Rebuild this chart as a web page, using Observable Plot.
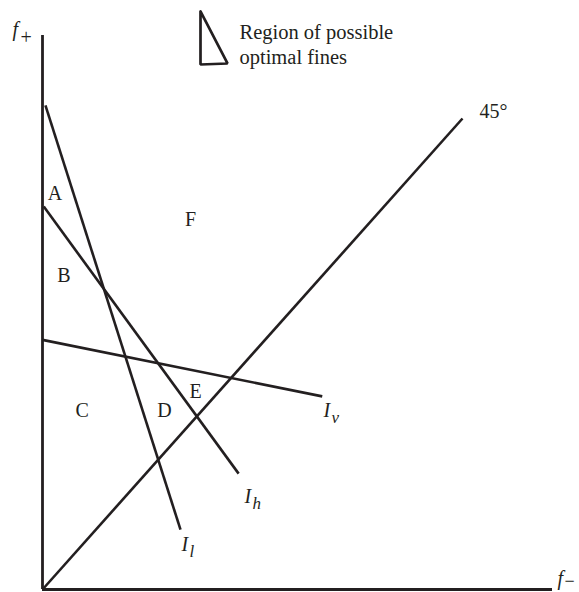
<!DOCTYPE html>
<html>
<head>
<meta charset="utf-8">
<script src="https://cdn.jsdelivr.net/npm/d3@7"></script>
<script src="https://cdn.jsdelivr.net/npm/@observablehq/plot@0.6"></script>
<style>
  html, body { margin: 0; padding: 0; background: #fff; }
  svg { display: block; }
</style>
</head>
<body>
<div id="chart"></div>
<script>
// Axis extents (data units; the 45° line is y = x)
const xAxisEnd = 12.143;
const yAxisEnd = 11.762;

// Straight lines of the diagram
const lineIds = ["Il", "Ih", "Iv", "deg45"];
const lineX1 = [0.07, 0.03, 0.0, 0.0];
const lineY1 = [10.28, 8.13, 5.30, 0.0];
const lineX2 = [3.286, 4.67, 6.66, 10.0];
const lineY2 = [1.27, 2.46, 4.10, 10.0];

// Region labels
const regionLabels = ["A", "B", "C", "D", "E", "F"];
const regionX = [0.298, 0.512, 0.945, 2.905, 3.643, 3.524];
const regionY = [8.259, 6.524, 3.652, 3.652, 4.076, 7.707];

// Curve labels (I with subscript)
const curveBase = ["I", "I", "I"];
const curveSub = ["l", "h", "v"];
const curveX = [3.31, 4.81, 6.69];
const curveY = [0.828, 1.826, 3.652];

// Axis labels (f with subscript): vertical axis, horizontal axis
const axisBase = ["f", "f"];
const axisSub = ["+", "\u2212"];
const axisLabelX = [-0.714, 12.26];
const axisLabelY = [11.741, 0.085];

// 45° label
const degLabel = ["45°"];
const degX = [10.405];
const degY = [10.021];

// Legend: triangle icon and text
const legendTriX = [3.762, 3.762, 4.405, 3.762];
const legendTriY = [12.272, 11.146, 11.168, 12.272];
const legendText = ["Region of possible", "optimal fines"];
const legendTextX = [4.69, 4.69];
const legendTextY = [11.698, 11.161];

const ink = "#231f20";
const serif = '"Liberation Serif", "Times New Roman", serif';

const lines = lineIds.map((id, i) => ({id, x1: lineX1[i], y1: lineY1[i], x2: lineX2[i], y2: lineY2[i]}));
const regions = regionLabels.map((t, i) => ({t, x: regionX[i], y: regionY[i]}));
const curves = curveBase.map((t, i) => ({t, s: curveSub[i], x: curveX[i], y: curveY[i]}));
const axisLabels = axisBase.map((t, i) => ({t, s: axisSub[i], x: axisLabelX[i], y: axisLabelY[i]}));
const degs = degLabel.map((t, i) => ({t, x: degX[i], y: degY[i]}));
const tri = legendTriX.map((x, i) => ({x, y: legendTriY[i]}));
const legend = legendText.map((t, i) => ({t, x: legendTextX[i], y: legendTextY[i]}));

const plot = Plot.plot({
  width: 579,
  height: 592,
  marginLeft: 42,
  marginRight: 27,
  marginTop: 35,
  marginBottom: 3,
  x: {domain: [0, xAxisEnd], axis: null},
  y: {domain: [0, yAxisEnd], axis: null},
  style: {background: "#fff", fontFamily: serif, color: ink, overflow: "visible"},
  marks: [
    Plot.ruleX([0], {y1: 0, y2: yAxisEnd, stroke: ink, strokeWidth: 2.8}),
    Plot.ruleY([0], {x1: 0, x2: xAxisEnd, stroke: ink, strokeWidth: 2.8}),
    Plot.link(lines, {x1: "x1", y1: "y1", x2: "x2", y2: "y2", stroke: ink, strokeWidth: 2.6}),
    Plot.text(regions, {x: "x", y: "y", text: "t", fontSize: 20, fill: ink, textAnchor: "middle", lineAnchor: "bottom"}),
    Plot.text(curves, {x: "x", y: "y", text: "t", fontSize: 20, fontStyle: "italic", fill: ink, textAnchor: "start", lineAnchor: "bottom"}),
    Plot.text(curves, {x: "x", y: "y", text: "s", fontSize: 17, fontStyle: "italic", fill: ink, textAnchor: "start", lineAnchor: "bottom", dx: 8, dy: 6}),
    Plot.text(axisLabels, {x: "x", y: "y", text: "t", fontSize: 20, fontStyle: "italic", fill: ink, textAnchor: "start", lineAnchor: "bottom"}),
    Plot.text(axisLabels.slice(0, 1), {x: "x", y: "y", text: "s", fontSize: 20, fill: ink, textAnchor: "start", lineAnchor: "bottom", dx: 8, dy: 8}),
    Plot.text(axisLabels.slice(1), {x: "x", y: "y", text: "s", fontSize: 18, fill: ink, textAnchor: "start", lineAnchor: "bottom", dx: 7, dy: 2}),
    Plot.text(degs, {x: "x", y: "y", text: "t", fontSize: 20, fill: ink, textAnchor: "start", lineAnchor: "bottom"}),
    Plot.line(tri, {x: "x", y: "y", stroke: ink, strokeWidth: 2.7, strokeLinejoin: "miter"}),
    Plot.text(legend, {x: "x", y: "y", text: "t", fontSize: 20.5, fill: ink, textAnchor: "start", lineAnchor: "bottom"})
  ]
});

document.getElementById("chart").appendChild(plot);
</script>
</body>
</html>
